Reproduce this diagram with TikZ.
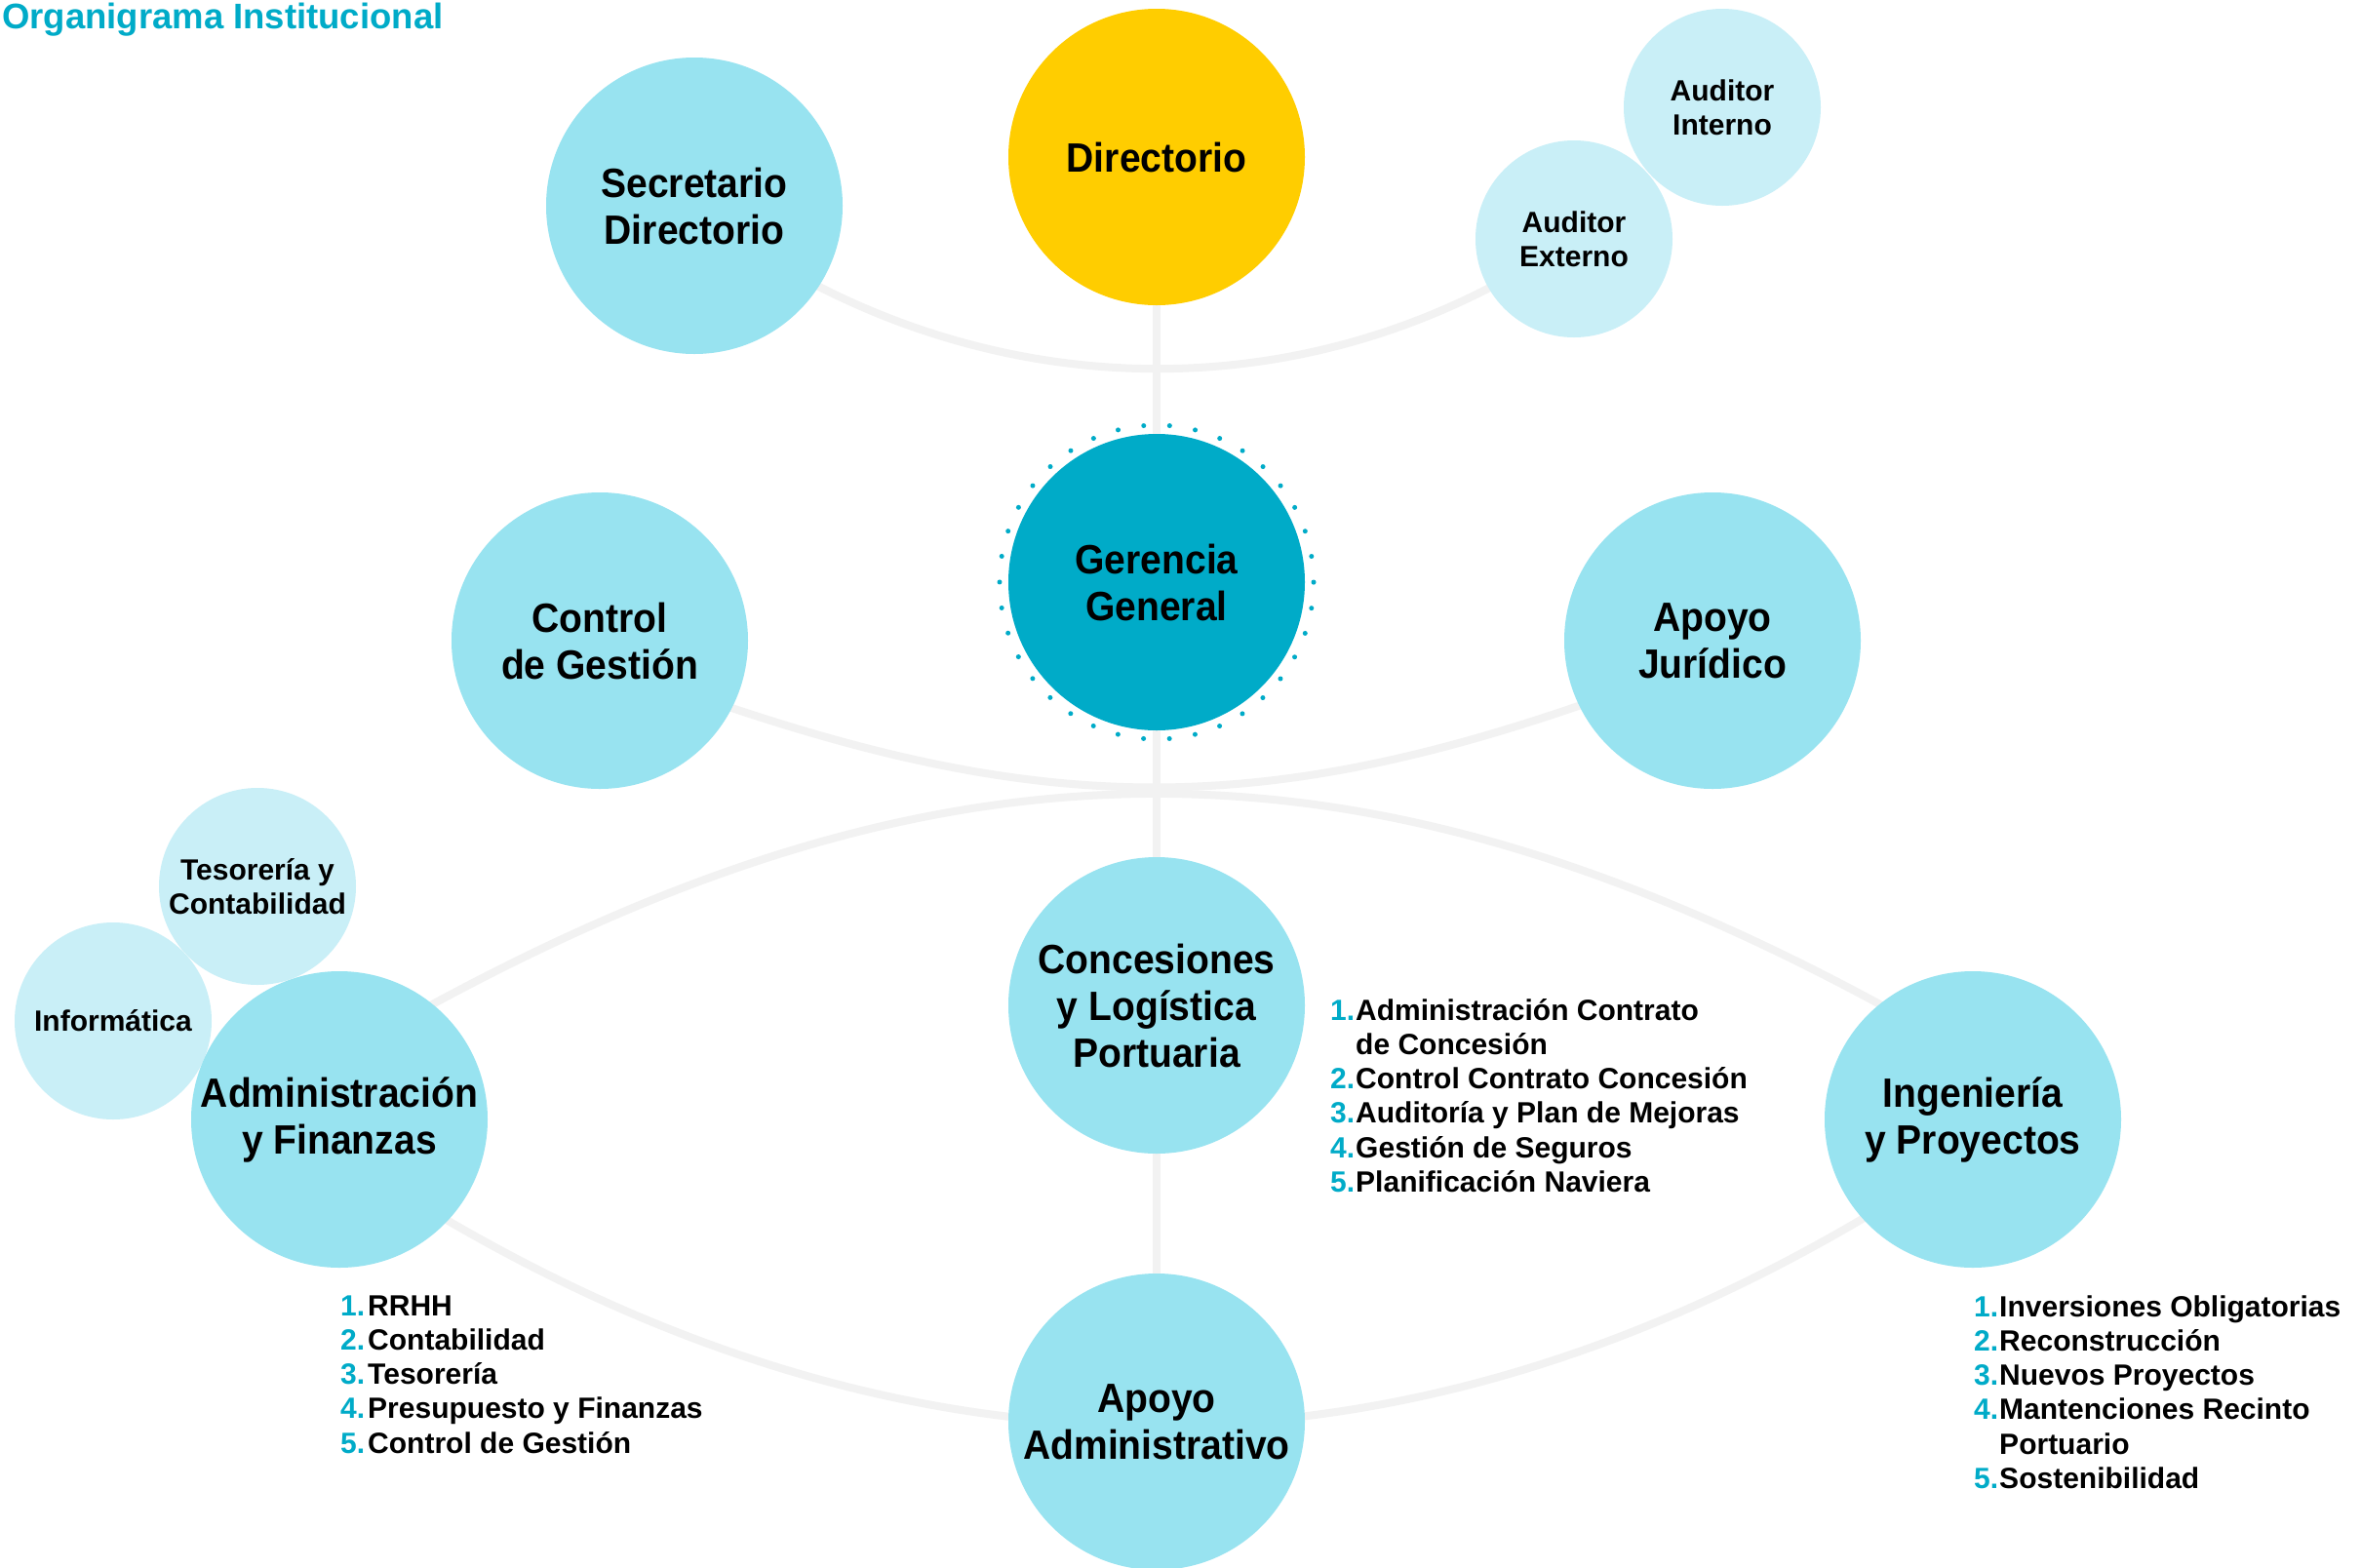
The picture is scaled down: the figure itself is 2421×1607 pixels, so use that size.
\documentclass[tikz,border=0pt]{standalone}
\usepackage{fontspec}
\setmainfont{Liberation Sans}
\newfontfamily\bigfont{Liberation Sans}[FakeStretch=0.93]
\definecolor{cmain}{HTML}{98E3F0}
\definecolor{cpale}{HTML}{C9EFF7}
\definecolor{cyel}{HTML}{FFCD00}
\definecolor{cteal}{HTML}{00ABC8}
\definecolor{cline}{HTML}{F2F2F2}
\pgfdeclarelayer{bg}
\pgfsetlayers{bg,main}
\tikzset{
 bigc/.style={circle, fill=cmain, minimum size=304pt, inner sep=0pt, align=center,
   font=\bigfont\bfseries\fontsize{42}{48}\selectfont},
 smallc/.style={circle, fill=cpale, minimum size=202pt, inner sep=0pt, align=center,
   font=\bfseries\fontsize{30}{35}\selectfont},
 conn/.style={draw=cline, line width=8pt, line join=round},
 listtxt/.style={anchor=base west, inner sep=0pt, font=\bfseries\fontsize{30}{35.3}\selectfont},
 ring/.style={draw=cteal, line width=5pt, line cap=round, dash pattern=on 0pt off 26.62pt},
}
\newcommand\nm[1]{\textcolor{cteal}{#1}}
\begin{document}
\begin{tikzpicture}[x=1pt,y=-1pt]
\useasboundingbox (0,0) rectangle (2421,1607);
% title
\node[anchor=base west, inner sep=0pt, text=cteal, font=\bfseries\fontsize{36.5}{40}\selectfont] (title) at (2,29) {Organigrama Institucional};
% circles
\node[bigc] (sec) at (712,211) {Secretario\\Directorio};
\node[bigc, fill=cyel] (dir) at (1186,161) {Directorio};
\node[smallc] (ai) at (1766,110) {Auditor\\Interno};
\node[smallc] (ae) at (1614,245) {Auditor\\Externo};
\node[bigc, fill=cteal] (ger) at (1186,597) {Gerencia\\General};
\draw[ring] (ger.center) circle[radius=161pt];
\node[bigc] (ctl) at (615,657) {Control\\de Gestión};
\node[bigc] (jur) at (1756,657) {Apoyo\\Jurídico};
\node[smallc] (tes) at (264,909) {Tesorería y\\Contabilidad};
\node[smallc] (inf) at (116,1047) {Informática};
\node[bigc] (adm) at (348,1148) {Administración\\y Finanzas};
\node[bigc] (con) at (1186,1031) {Concesiones\\y Logística\\Portuaria};
\node[bigc] (ing) at (2023,1148) {Ingeniería\\y Proyectos};
\node[bigc] (apa) at (1186,1458) {Apoyo\\Administrativo};
% lists
\node[listtxt] (ladm) at (349,1349) {\begin{tabular}[t]{@{}l@{\hspace{3pt}}l@{}}
\nm{1.}&RRHH\\
\nm{2.}&Contabilidad\\
\nm{3.}&Tesorería\\
\nm{4.}&Presupuesto y Finanzas\\
\nm{5.}&Control de Gestión
\end{tabular}};
\node[listtxt] (lcon) at (1364,1046) {\begin{tabular}[t]{@{}l@{\hspace{1pt}}l@{}}
\nm{1.}&Administración Contrato\\
&de Concesión\\
\nm{2.}&Control Contrato Concesión\\
\nm{3.}&Auditoría y Plan de Mejoras\\
\nm{4.}&Gestión de Seguros\\
\nm{5.}&Planificación Naviera
\end{tabular}};
\node[listtxt] (ling) at (2024,1350) {\begin{tabular}[t]{@{}l@{\hspace{1pt}}l@{}}
\nm{1.}&Inversiones Obligatorias\\
\nm{2.}&Reconstrucción\\
\nm{3.}&Nuevos Proyectos\\
\nm{4.}&Mantenciones Recinto\\
&Portuario\\
\nm{5.}&Sostenibilidad
\end{tabular}};
% connectors
\begin{pgfonlayer}{bg}
\fill[white] (0,0) rectangle (2421,1607);
\draw[conn] (dir.center) -- (ger.center) -- (con.center) -- (apa.center);
\draw[conn] (sec.center) -- (sec.327) .. controls (1058,405) and (1310,407) .. (ae.210) -- (ae.center);
\draw[conn] (ctl.center) -- (ctl.333.4) .. controls (1077,835) and (1295,835) .. (jur.206.6) -- (jur.center);
\draw[conn] (adm.center) -- (adm.51) .. controls (976,742) and (1396,742) .. (ing.129) -- (ing.center);
\draw[conn] (adm.center) -- (adm.317.7) .. controls (941,1532) and (1431,1532) .. (ing.222.3) -- (ing.center);
\end{pgfonlayer}
\end{tikzpicture}
\end{document}
